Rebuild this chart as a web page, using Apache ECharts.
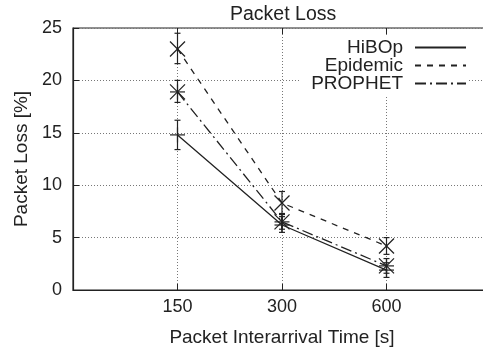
<!DOCTYPE html>
<html>
<head>
<meta charset="utf-8">
<script src="https://cdn.jsdelivr.net/npm/echarts@6/dist/echarts.min.js"></script>
<style>
  html, body { margin: 0; padding: 0; background: #fff; }
  #chart { width: 483px; height: 350px; }
</style>
</head>
<body>
<div id="chart"></div>
<script>
// x positions 1..3 map to these tick labels
const xTicks = ['150', '300', '600'];
const xPos = [1, 2, 3];

const hibopVal = [14.8, 6.2, 1.9];
const hibopLo = [13.4, 5.5, 1.2];
const hibopHi = [16.2, 7.0, 2.6];

const epidemicVal = [23.0, 8.3, 4.2];
const epidemicLo = [21.6, 7.3, 3.4];
const epidemicHi = [24.5, 9.4, 5.0];

const prophetVal = [18.9, 6.5, 2.3];
const prophetLo = [17.9, 5.8, 1.6];
const prophetHi = [20.0, 7.2, 3.0];

const ink = '#222';
const font = 'Liberation Sans, Arial, sans-serif';

function linePts(vals) {
    return vals.map((v, i) => [xPos[i], v]);
}
function errPts(vals, lo, hi) {
    return vals.map((v, i) => [xPos[i], v, lo[i], hi[i]]);
}

// error bar + gnuplot-like point glyph
function makeRender(shape) {
    return function (params, api) {
        const c = api.coord([api.value(0), api.value(1)]);
        const lo = api.coord([api.value(0), api.value(2)]);
        const hi = api.coord([api.value(0), api.value(3)]);
        const s = 7.5, cap = 3;
        const st = { stroke: ink, lineWidth: 1.2 };
        const seg = (x1, y1, x2, y2) => ({ type: 'line', shape: { x1, y1, x2, y2 }, style: st });
        const kids = [
            seg(c[0], lo[1], c[0], hi[1]),
            seg(c[0] - cap, lo[1], c[0] + cap, lo[1]),
            seg(c[0] - cap, hi[1], c[0] + cap, hi[1])
        ];
        if (shape === 'plus' || shape === 'star') {
            kids.push(seg(c[0] - s, c[1], c[0] + s, c[1]));
            kids.push(seg(c[0], c[1] - s, c[0], c[1] + s));
        }
        if (shape === 'cross' || shape === 'star') {
            kids.push(seg(c[0] - s, c[1] - s, c[0] + s, c[1] + s));
            kids.push(seg(c[0] - s, c[1] + s, c[0] + s, c[1] - s));
        }
        return { type: 'group', children: kids };
    };
}

const chart = echarts.init(document.getElementById('chart'));
const option = {
    animation: false,
    textStyle: { fontFamily: font },
    title: {
        text: 'Packet Loss',
        left: 225,
        top: 0,
        textStyle: { fontSize: 19.5, fontWeight: 'normal', color: ink, fontFamily: font }
    },
    grid: {
        left: 73, top: 28, right: -8, bottom: 60,
        outerBoundsMode: 'none',
        show: true, borderColor: ink, borderWidth: 1.2
    },
    legend: {
        orient: 'vertical',
        right: 16,
        top: 36,
        align: 'right',
        itemWidth: 51,
        itemHeight: 14,
        itemGap: -1,
        backgroundColor: '#fff',
        padding: [2, 0, 2, 4],
        itemStyle: { opacity: 0 },
        textStyle: { fontSize: 19, lineHeight: 14, color: ink, fontFamily: font, width: 100, align: 'right', padding: [0, 7, 0, 0] },
        data: ['HiBOp', 'Epidemic', 'PROPHET']
    },
    xAxis: [{
        type: 'value',
        min: 0,
        max: 4,
        interval: 1,
        name: 'Packet Interarrival Time [s]',
        nameLocation: 'middle',
        nameGap: 38,
        nameTextStyle: { fontSize: 19, color: ink },
        axisLine: { lineStyle: { color: ink, width: 1.2 } },
        axisTick: { inside: true, length: 6, lineStyle: { color: ink } },
        axisLabel: {
            fontSize: 18, color: ink, margin: 8,
            formatter: v => xTicks[xPos.indexOf(v)] || ''
        },
        splitLine: { lineStyle: { type: [1, 2], color: '#777' } }
    }, {
        type: 'value',
        position: 'top',
        min: 0,
        max: 4,
        interval: 1,
        axisLine: { show: false },
        axisTick: { inside: true, length: 6, lineStyle: { color: ink } },
        axisLabel: { show: false },
        splitLine: { show: false }
    }],
    yAxis: {
        type: 'value',
        min: 0,
        max: 25,
        interval: 5,
        name: 'Packet Loss [%]',
        nameLocation: 'middle',
        nameGap: 40,
        nameTextStyle: { fontSize: 19, color: ink },
        axisLine: { show: true, lineStyle: { color: ink, width: 1.2 } },
        axisTick: { show: true, inside: true, length: 6, lineStyle: { color: ink } },
        axisLabel: { fontSize: 18, color: ink, margin: 11 },
        splitLine: { lineStyle: { type: [1, 2], color: '#777' } }
    },
    series: [
        { name: 'HiBOp', type: 'line', symbol: 'none', data: linePts(hibopVal),
          lineStyle: { color: ink, width: 1.3, type: 'solid' }, itemStyle: { color: ink } },
        { name: 'Epidemic', type: 'line', symbol: 'none', data: linePts(epidemicVal),
          lineStyle: { color: ink, width: 1.3, type: [6, 6] }, itemStyle: { color: ink } },
        { name: 'PROPHET', type: 'line', symbol: 'none', data: linePts(prophetVal),
          lineStyle: { color: ink, width: 1.3, type: [11, 4, 2, 4] }, itemStyle: { color: ink } },
        { type: 'custom', renderItem: makeRender('plus'), data: errPts(hibopVal, hibopLo, hibopHi), z: 5 },
        { type: 'custom', renderItem: makeRender('cross'), data: errPts(epidemicVal, epidemicLo, epidemicHi), z: 5 },
        { type: 'custom', renderItem: makeRender('star'), data: errPts(prophetVal, prophetLo, prophetHi), z: 5 }
    ]
};
chart.setOption(option);
</script>
</body>
</html>
